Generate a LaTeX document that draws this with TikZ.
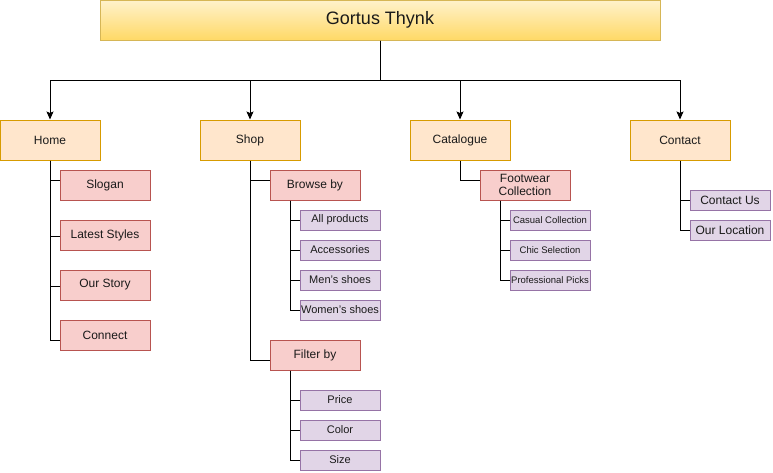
\documentclass[tikz,border=0pt]{standalone}
\usepackage{fontspec}
\setmainfont{Liberation Sans}
\usetikzlibrary{arrows.meta}

\definecolor{titletop}{HTML}{FFF2CC}
\definecolor{titlebottom}{HTML}{FFD966}
\definecolor{titleline}{HTML}{D6B656}
\definecolor{pagefill}{HTML}{FFE6CC}
\definecolor{pageline}{HTML}{D79B00}
\definecolor{groupfill}{HTML}{F8CECC}
\definecolor{groupline}{HTML}{B85450}
\definecolor{itemfill}{HTML}{E1D5E7}
\definecolor{itemline}{HTML}{9673A6}
\definecolor{textcolor}{HTML}{1A1A1A}

\tikzset{
  box/.style={draw, line width=1pt, inner sep=0pt, text=textcolor, align=center,
    font=\fontsize{12}{13}\selectfont},
  titlebox/.style={box, draw=titleline, top color=titletop, bottom color=titlebottom,
    minimum width=560pt, minimum height=40pt, font=\fontsize{18}{20}\selectfont},
  pagebox/.style={box, draw=pageline, fill=pagefill, minimum width=100pt, minimum height=40pt},
  groupbox/.style={box, draw=groupline, fill=groupfill, minimum width=90pt, minimum height=30pt},
  itembox/.style={box, draw=itemline, fill=itemfill, minimum width=80pt, minimum height=20pt,
    font=\fontsize{11}{12}\selectfont},
  smallitem/.style={itembox, font=\fontsize{9.5}{11}\selectfont},
  arrowline/.style={line width=1pt, -{Stealth[length=8pt,width=7pt,inset=1.5pt]}},
  treeline/.style={line width=1pt}
}

\begin{document}
\begin{tikzpicture}[x=1pt,y=-1pt]
\useasboundingbox (0,0) rectangle (773,472);

% title
\node[titlebox] (title) at (380,20) {Gortus Thynk};
\coordinate (bus) at (380,80);

% pages
\node[pagebox] (home) at (50,140) {Home};
\node[pagebox] (shop) at (250,140) {Shop};
\node[pagebox] (catalogue) at (460,140) {Catalogue};
\node[pagebox] (contact) at (680,140) {Contact};

\foreach \n in {home,shop,catalogue,contact}
  \draw[arrowline] (title.south) -- (bus) -| (\n.north);

% home
\node[groupbox] (slogan) at (105,185) {Slogan};
\node[groupbox] (latest) at (105,235) {Latest Styles};
\node[groupbox] (story) at (105,285) {Our Story};
\node[groupbox] (connect) at (105,335) {Connect};
\draw[treeline] (home.south) |- ([yshift=5pt]slogan.west);
\draw[treeline] (home.south) |- ([yshift=-1pt]latest.west);
\draw[treeline] (home.south) |- ([yshift=-1pt]story.west);
\draw[treeline] (home.south) |- ([yshift=-5pt]connect.west);

% shop
\node[groupbox] (browse) at (315,185) {Browse by};
\node[groupbox] (filter) at (315,355) {Filter by};
\draw[treeline] (shop.south) |- ([yshift=5pt]browse.west);
\draw[treeline] (shop.south) |- ([yshift=-5pt]filter.west);

\node[itembox] (allprod) at (340,220) {All products};
\node[itembox] (access) at (340,250) {Accessories};
\node[itembox] (men) at (340,280) {Men's shoes};
\node[itembox] (women) at (340,310) {Women's shoes};
\foreach \n in {allprod,access,men,women}
  \draw[treeline] ([xshift=-25pt]browse.south) |- (\n.west);

\node[itembox] (price) at (340,400) {Price};
\node[itembox] (color) at (340,430) {Color};
\node[itembox] (size) at (340,460) {Size};
\foreach \n in {price,color,size}
  \draw[treeline] ([xshift=-25pt]filter.south) |- (\n.west);

% catalogue
\node[groupbox] (footwear) at (525,185) {Footwear\\Collection};
\draw[treeline] (catalogue.south) |- ([yshift=5pt]footwear.west);

\node[smallitem] (casual) at (550,220) {Casual Collection};
\node[smallitem] (chic) at (550,250) {Chic Selection};
\node[smallitem] (pro) at (550,280) {Professional Picks};
\foreach \n in {casual,chic,pro}
  \draw[treeline] ([xshift=-25pt]footwear.south) |- (\n.west);

% contact
\node[itembox, font=\fontsize{12}{13}\selectfont] (contactus) at (730,200) {Contact Us};
\node[itembox, font=\fontsize{12}{13}\selectfont] (location) at (730,230) {Our Location};
\draw[treeline] (contact.south) |- (contactus.west);
\draw[treeline] (contact.south) |- (location.west);
\end{tikzpicture}
\end{document}
